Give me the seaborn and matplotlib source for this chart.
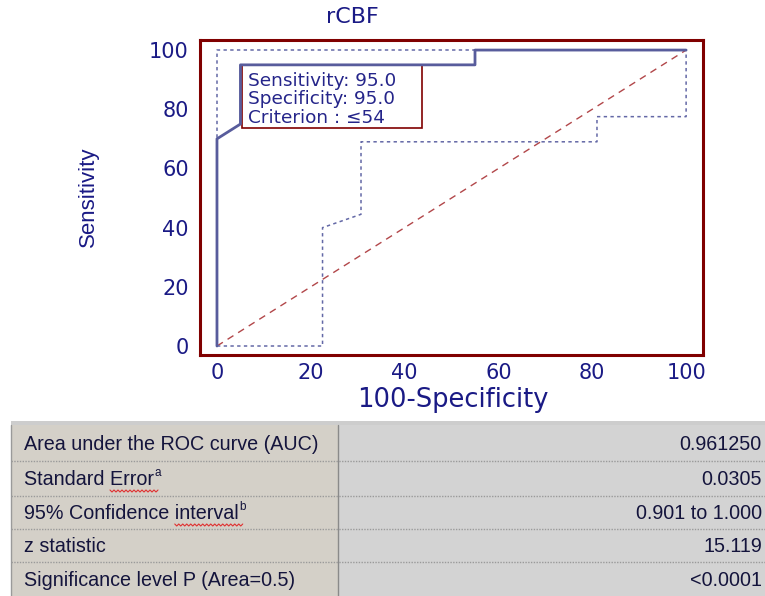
import matplotlib
matplotlib.use("Agg")
import matplotlib.pyplot as plt
import seaborn as sns
import pandas as pd
from matplotlib.patches import Rectangle
from matplotlib.ticker import MultipleLocator

# ---------------- data ----------------
roc_fpr = [0, 0, 5, 5, 55, 55, 100]
roc_tpr = [0, 70, 75, 95, 95, 100, 100]
ci_upper_fpr = [0, 0, 100]
ci_upper_tpr = [0, 100, 100]
ci_lower_fpr = [0, 22.5, 22.5, 30.7, 30.7, 81, 81, 100, 100]
ci_lower_tpr = [0, 0, 40, 44.5, 69, 69, 77.5, 77.5, 100]
ref_fpr = [0, 100]
ref_tpr = [0, 100]

x_ticks = [0, 20, 40, 60, 80, 100]
y_ticks = [0, 20, 40, 60, 80, 100]

title = "rCBF"
x_label = "100-Specificity"
y_label = "Sensitivity"
annot_lines = ["Sensitivity: 95.0", "Specificity: 95.0", "Criterion : \u226454"]

table_labels = ["Area under the ROC curve (AUC)", "Standard Error", "95% Confidence interval",
                "z statistic", "Significance level P (Area=0.5)"]
table_sup = ["", "a", "b", "", ""]
table_values = ["0.961250", "0.0305", "0.901 to 1.000", "15.119", "<0.0001"]

# ---------------- style ----------------
sns.set_theme(style="white")
plt.rcParams["font.family"] = ["DejaVu Sans"]
NAVY = "#1a1a85"
DARKRED = "#800000"
NARROW = ["Liberation Sans", "DejaVu Sans"]

W, H = 765, 596
fig = plt.figure(figsize=(W / 100, H / 100), dpi=100)
fig.patch.set_facecolor("white")

ax = fig.add_axes([200 / W, 1 - 355 / H, 503 / W, 315 / H])
ax.set_facecolor("white")

df_ref = pd.DataFrame({"fpr": ref_fpr, "tpr": ref_tpr})
df_up = pd.DataFrame({"fpr": ci_upper_fpr, "tpr": ci_upper_tpr})
df_lo = pd.DataFrame({"fpr": ci_lower_fpr, "tpr": ci_lower_tpr})
df_roc = pd.DataFrame({"fpr": roc_fpr, "tpr": roc_tpr})

sns.lineplot(data=df_ref, x="fpr", y="tpr", sort=False, estimator=None, ax=ax,
             color="#b2474a", linewidth=1.0, linestyle=(0, (5, 4)), zorder=2, legend=False)
for d in (df_up, df_lo):
    sns.lineplot(data=d, x="fpr", y="tpr", sort=False, estimator=None, ax=ax,
                 color="#6368a6", linewidth=1.1, linestyle=(0, (2.2, 2.2)), zorder=3, legend=False)

# annotation box (drawn under the ROC line)
ax.add_patch(Rectangle((5.3, 73.6), 38.4, 21.4, facecolor="white", edgecolor=DARKRED,
                       linewidth=1.2, zorder=4))
sns.lineplot(data=df_roc, x="fpr", y="tpr", sort=False, estimator=None, ax=ax,
             color="#585c9c", linewidth=2.0, zorder=5, legend=False)

for i, t in enumerate(annot_lines):
    ax.text(6.6, 89.6 - i * 6.2, t, fontsize=13.3, color="#25258a", va="center", ha="left", zorder=6)

ax.set_xlim(-3.62, 103.6)
ax.set_ylim(-3.04, 103.4)
ax.set_xticks(x_ticks)
ax.set_yticks(y_ticks)
ax.xaxis.set_minor_locator(MultipleLocator(5))
ax.yaxis.set_minor_locator(MultipleLocator(5))
ax.set_xlabel("")
ax.set_ylabel("")
for s in ax.spines.values():
    s.set_color(DARKRED)
    s.set_linewidth(2.2)
ax.tick_params(axis="both", which="both", direction="in", color=DARKRED, width=1.5,
               labelcolor=NAVY, labelsize=15)
ax.tick_params(axis="y", which="major", length=12, pad=8)
ax.tick_params(axis="y", which="minor", length=7.5)
ax.tick_params(axis="x", which="major", length=7, pad=6)
ax.tick_params(axis="x", which="minor", length=3)
ax.grid(False)

fig.text(352 / W, 1 - 17 / H, title, fontsize=16, color=NAVY, ha="center", va="center")
fig.text(453 / W, 1 - 407 / H, x_label, fontsize=18.5, color=NAVY, ha="center", va="baseline")
fig.text(88 / W, 1 - 197 / H, y_label, fontsize=16, color=NAVY, ha="center", va="center",
         rotation=90, family=NARROW)

# ---------------- table ----------------
tx = fig.add_axes([0, 0, 1, 1], zorder=-1)
tx.set_xlim(0, W)
tx.set_ylim(H, 0)
tx.axis("off")

top, bottom = 425, 596
left, mid, right = 11, 338, 765
row_edges = [425, 461, 496, 529, 562, 596]

tx.add_patch(Rectangle((left, 421), W - left, 4, facecolor="#cdcdcd", edgecolor="none"))
tx.add_patch(Rectangle((left, top), mid - left, bottom - top, facecolor="#d4d0c8", edgecolor="none"))
tx.add_patch(Rectangle((mid, top), right - mid, bottom - top, facecolor="#d3d3d3", edgecolor="none"))
tx.plot([left, left], [top, bottom], color="#9a9a9a", lw=1)
tx.plot([mid, mid], [top, bottom], color="#8a8a8a", lw=1)
for y in row_edges[1:-1]:
    tx.plot([left, right], [y, y], color="#9a9a9a", lw=1, linestyle=(0, (1, 1)))

TFS = 14.2
renderer = fig.canvas.get_renderer()
for i, (lab, sup, val) in enumerate(zip(table_labels, table_sup, table_values)):
    yc = (row_edges[i] + row_edges[i + 1]) / 2 + 1
    t = tx.text(24, yc, lab, fontsize=TFS, color="#14143c", ha="left", va="center", family=NARROW)
    tx.text(762, yc, val, fontsize=TFS, color="#14143c", ha="right", va="center", family=NARROW)
    if sup:
        bb = t.get_window_extent(renderer=renderer)
        x_end = bb.x1
        tx.text(x_end + 1, yc - 6, sup, fontsize=8.5, color="#14143c", ha="left", va="center",
                family=NARROW)
        # spell-check squiggle under the last word
        word = lab.split(" ")[-1]
        wb = tx.text(0, 0, word, fontsize=TFS, family=NARROW, alpha=0).get_window_extent(renderer=renderer)
        x0 = x_end - wb.width
        xs, ys = [], []
        xx, k = x0, 0
        while xx <= x_end + 4:
            xs.append(xx)
            ys.append(yc + 11 + (1.5 if k % 2 else -0.5))
            xx += 2
            k += 1
        tx.plot(xs, ys, color="#e03030", lw=0.8)

fig.savefig("out.png", dpi=100)
